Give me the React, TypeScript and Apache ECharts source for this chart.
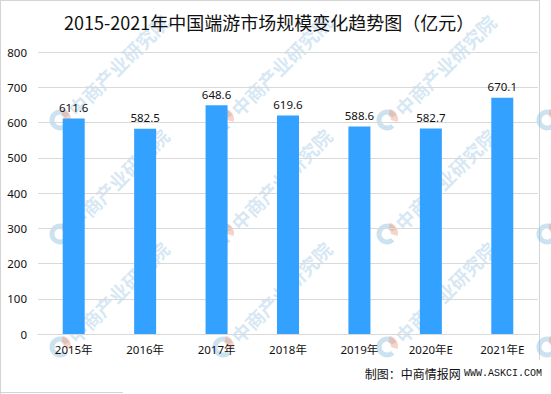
import React, { useEffect, useRef } from "react";
import * as echarts from "echarts";

const titleText = "2015-2021年中国端游市场规模变化趋势图（亿元）";
const categories = ["2015年", "2016年", "2017年", "2018年", "2019年", "2020年E", "2021年E"];
const values = [611.6, 582.5, 648.6, 619.6, 588.6, 582.7, 670.1];
const yMin = 0;
const yMax = 800;
const yInterval = 100;
const sourceCn = "制图：中商情报网";
const sourceUrl = "WWW.ASKCI.COM";
const watermarkText = "中商产业研究院";

const wmCols = [60, 223, 387, 547];
const wmRows = [120, 234, 347];

function buildWatermarks() {
  const els: any[] = [];
  wmRows.forEach((y) => {
    wmCols.forEach((x) => {
      const children: any[] = [
        {
          type: "arc",
          shape: { cx: 0, cy: 0, r: 8, startAngle: Math.PI * 0.25, endAngle: Math.PI * 1.85, clockwise: true },
          style: { stroke: "rgba(140,190,225,0.45)", lineWidth: 5, fill: null },
        },
        {
          type: "sector",
          shape: { cx: 1, cy: -1, r0: 3, r: 10, startAngle: -Math.PI * 0.45, endAngle: Math.PI * 0.1 },
          style: { fill: "rgba(240,160,130,0.45)" },
        },
      ];
      if (x < 500) {
        children.push({
          type: "text",
          x: 11,
          y: -8,
          rotation: Math.PI / 4,
          style: {
            text: watermarkText,
            fontSize: 19,
            fontWeight: "bold",
            fontFamily: "Noto Sans CJK SC",
            fill: "rgba(150,195,228,0.4)",
            align: "left",
            verticalAlign: "middle",
          },
        });
      }
      els.push({ type: "group", x, y, z: 100, silent: true, children });
    });
  });
  return els;
}

export default function App() {
  const ref = useRef<HTMLDivElement>(null);
  useEffect(() => {
    if (!ref.current) return;
    const chart = echarts.init(ref.current, null, { renderer: "svg" });
    const border = "#d4d4d4";
    chart.setOption({
      animation: false,
      backgroundColor: "#ffffff",
      title: {
        text: titleText,
        left: 64,
        top: 13,
        padding: 0,
        textStyle: {
          fontFamily: "Noto Sans CJK SC",
          fontSize: 18,
          fontWeight: "normal",
          color: "#111111",
        },
      },
      grid: { left: 38, right: 13, top: 52, bottom: 60, containLabel: false },
      xAxis: {
        type: "category",
        data: categories,
        axisLine: { show: true, lineStyle: { color: "#d9d9d9", width: 1 } },
        axisTick: { show: false },
        axisLabel: {
          color: "#111111",
          fontSize: 11.5,
          fontFamily: "Noto Sans, Noto Sans CJK SC",
          margin: 10,
        },
      },
      yAxis: {
        type: "value",
        min: yMin,
        max: yMax,
        interval: yInterval,
        axisLine: { show: false },
        axisTick: { show: false },
        splitLine: { lineStyle: { color: "#d9d9d9", width: 1 } },
        axisLabel: {
          color: "#111111",
          fontSize: 11.5,
          fontFamily: "Noto Sans",
          margin: 11,
        },
      },
      series: [
        {
          type: "bar",
          data: values,
          barWidth: 22,
          itemStyle: { color: "#33a1ff" },
          label: {
            show: true,
            position: "top",
            distance: 5,
            color: "#111111",
            fontSize: 11.5,
            fontFamily: "Noto Sans",
            formatter: (p: any) => Number(p.value).toFixed(1),
          },
        },
      ],
      graphic: [
        {
          type: "line",
          silent: true,
          shape: { x1: 0.5, y1: 0, x2: 0.5, y2: 394 },
          style: { stroke: border, lineWidth: 1 },
        },
        {
          type: "line",
          silent: true,
          shape: { x1: 0, y1: 0.5, x2: 540, y2: 0.5 },
          style: { stroke: border, lineWidth: 1 },
        },
        {
          type: "line",
          silent: true,
          shape: { x1: 539.5, y1: 0, x2: 539.5, y2: 360 },
          style: { stroke: border, lineWidth: 1 },
        },
        {
          type: "line",
          silent: true,
          shape: { x1: 0, y1: 392.5, x2: 123, y2: 392.5 },
          style: { stroke: border, lineWidth: 1 },
        },
        ...buildWatermarks(),
        {
          type: "text",
          x: 542,
          y: 373,
          z: 110,
          style: {
            text: "{a|" + sourceCn + "} {b|" + sourceUrl + "}",
            align: "right",
            verticalAlign: "middle",
            rich: {
              a: { fontFamily: "Noto Sans CJK SC", fontSize: 12, fill: "#111111" },
              b: { fontFamily: "Liberation Mono", fontSize: 10, fill: "#111111" },
            },
          },
        },
      ],
    });
    return () => chart.dispose();
  }, []);
  return (
    <div
      ref={ref}
      style={{ position: "fixed", left: 0, top: 0, width: 551, height: 394 }}
    />
  );
}
